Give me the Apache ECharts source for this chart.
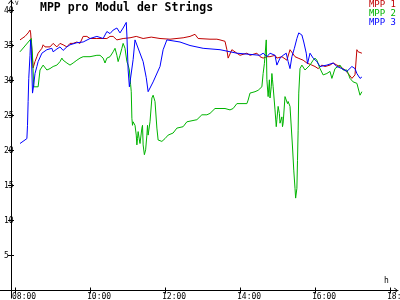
<!DOCTYPE html>
<html><head><meta charset="utf-8">
<script src="https://cdn.jsdelivr.net/npm/echarts@6/dist/echarts.min.js"></script>
<style>html,body{margin:0;padding:0;background:#fff}#c{width:400px;height:300px}</style>
</head><body><div id="c"></div>
<script>
const TITLE = 'MPP pro Modul der Strings';
const seriesNames = ['MPP 1', 'MPP 2', 'MPP 3'];
const seriesColors = ['#c00000', '#00b400', '#0000ff'];
const xTickLabels = ['08:00', '10:00', '12:00', '14:00', '16:00', '18:00'];
const yTickValues = [5, 10, 15, 20, 25, 30, 35, 40];
const yUnit = 'V';
const xUnit = 'h';

// MPP 1 (red)
const t1 = ['08:08','08:16','08:21','08:24','08:25','08:29','08:32','08:35','08:37','08:40',
  '08:43','08:45','08:48','08:51','08:56','09:01','09:07','09:12','09:17','09:23',
  '09:28','09:33','09:39','09:44','09:49','09:55','10:00','10:11','10:27','10:32',
  '10:37','10:43','10:53','11:04','11:14','11:25','11:38','11:52','12:08','12:29',
  '12:40','12:48','12:53','13:12','13:23','13:28','13:36','13:39','13:41','13:47',
  '13:55','14:00','14:11','14:16','14:27','14:32','14:37','14:43','14:48','14:56',
  '14:59','15:07','15:15','15:20','15:23','15:28','15:33','15:41','15:47','15:55',
  '16:00','16:05','16:11','16:16','16:24','16:29','16:35','16:40','16:48','16:53',
  '16:59','17:01','17:04','17:07','17:09','17:15'];
const v1 = [35.8,36.3,36.8,37.2,36.8,31.8,32.7,33.4,33.9,34.1,
  34.6,35.1,34.8,34.6,34.8,35.3,34.8,35.3,35.1,34.8,
  35.3,35.3,35.5,35.3,36.3,36.3,36.0,36.0,36.0,36.3,
  36.3,35.8,36.0,36.1,36.3,36.0,36.2,36.0,35.9,36.1,
  36.3,36.6,36.0,35.9,35.9,35.8,35.6,34.4,33.2,34.4,
  33.9,33.6,33.9,33.6,33.9,33.4,33.2,33.4,33.4,33.6,
  33.2,33.4,32.9,34.4,34.6,33.4,33.2,32.9,32.5,32.2,
  32.0,31.7,32.2,32.0,32.2,32.5,32.2,32.0,31.5,31.0,
  30.3,30.1,30.8,34.4,34.1,33.9];

// MPP 2 (green)
const t2 = ['08:08','08:26','08:28','08:30','08:37','08:40','08:45','08:51','08:56','09:01',
  '09:07','09:12','09:15','09:17','09:23','09:28','09:33','09:39','09:44','09:49',
  '10:00','10:11','10:16','10:21','10:24','10:27','10:32','10:37','10:40','10:43',
  '10:45','10:48','10:51','10:53','10:56','10:59','11:01','11:03','11:04','11:05',
  '11:06','11:07','11:08','11:09','11:12','11:14','11:15','11:16','11:17','11:19',
  '11:20','11:23','11:24','11:25','11:27','11:29','11:31','11:32','11:33','11:36',
  '11:39','11:41','11:44','11:47','11:49','11:55','12:00','12:05','12:13','12:19',
  '12:29','12:35','12:51','12:59','13:07','13:12','13:20','13:36','13:44','13:49',
  '13:55','14:11','14:13','14:16','14:19','14:24','14:29','14:35','14:37','14:39',
  '14:42','14:43','14:45','14:47','14:48','14:50','14:51','14:52','14:53','14:56',
  '14:58','14:59','15:01','15:03','15:04','15:07','15:08','15:09','15:12','15:15',
  '15:16','15:17','15:20','15:23','15:24','15:26','15:28','15:29','15:31','15:32',
  '15:33','15:34','15:36','15:39','15:41','15:44','15:47','15:52','15:57','16:00',
  '16:03','16:05','16:08','16:13','16:19','16:24','16:27','16:32','16:40','16:45',
  '16:51','16:56','17:01','17:07','17:12','17:15'];
const v2 = [34.1,36.0,33.5,29.1,29.1,31.5,32.2,31.5,31.7,32.0,
  32.2,32.7,33.2,32.9,32.5,32.2,32.5,32.9,33.2,33.4,
  33.4,33.6,33.6,33.2,32.5,33.2,33.4,34.1,34.6,33.6,
  32.7,33.6,34.6,35.3,34.6,32.7,32.2,31.5,30.3,29.4,
  28.4,24.6,23.6,24.1,23.6,22.2,20.8,21.7,22.7,21.5,
  21.0,23.2,23.6,20.8,19.4,20.1,22.2,23.6,22.2,24.1,
  27.5,27.9,27.0,23.2,21.5,21.3,21.7,22.2,22.5,23.2,
  23.4,24.1,24.4,25.1,25.1,25.3,26.0,26.0,25.8,26.0,
  26.7,26.7,27.2,28.2,28.4,28.4,28.6,29.1,31.0,32.4,
  35.8,30.1,27.7,30.1,27.5,29.1,31.0,30.1,29.1,25.8,
  23.4,24.4,26.3,25.3,23.9,24.8,23.4,23.9,27.7,27.5,
  26.7,27.0,26.3,26.3,20.5,17.2,14.6,13.2,14.6,18.6,
  22.9,28.2,31.7,32.2,32.2,31.5,31.3,32.2,32.9,33.2,
  32.9,32.7,31.7,30.8,31.0,31.3,30.3,31.7,32.2,31.5,
  31.5,30.3,29.8,29.6,27.9,28.4];

// MPP 3 (blue)
const t3 = ['08:08','08:19','08:20','08:21','08:22','08:24','08:25','08:26','08:28','08:30',
  '08:32','08:35','08:37','08:43','08:51','08:59','09:01','09:07','09:12','09:17',
  '09:23','09:28','09:39','09:49','10:00','10:11','10:21','10:27','10:32','10:37',
  '10:43','10:48','10:53','10:58','10:59','11:01','11:03','11:06','11:09','11:12',
  '11:15','11:25','11:30','11:33','11:35','11:41','11:52','11:57','12:03','12:24',
  '12:40','13:01','13:28','13:55','14:32','14:37','14:43','14:48','14:56','14:59',
  '15:04','15:09','15:14','15:17','15:20','15:23','15:27','15:31','15:34','15:39',
  '15:42','15:46','15:48','15:52','15:57','16:03','16:08','16:19','16:29','16:35',
  '16:43','16:51','16:59','17:04','17:07','17:12','17:15'];
const v3 = [21.0,21.7,23.6,27.0,30.3,33.6,35.8,34.4,28.2,29.4,
  31.0,32.0,32.7,33.9,34.4,34.6,34.1,34.5,34.8,34.3,
  34.8,35.1,35.4,35.5,36.0,36.3,36.0,37.0,36.7,37.2,
  37.5,36.8,37.5,38.3,36.5,31.5,29.1,29.1,33.0,35.8,
  36.0,32.7,30.4,28.4,28.4,29.8,32.0,34.4,35.8,35.5,
  35.0,34.6,34.4,33.9,33.6,33.9,33.4,33.9,33.6,32.2,
  33.2,33.6,33.9,32.7,31.7,33.4,34.6,36.0,36.8,36.5,
  35.5,33.9,32.4,33.9,33.2,32.7,32.0,32.2,32.5,32.0,
  31.7,31.3,32.0,31.7,31.0,30.3,30.5];

const FONT = 'DejaVu Sans Mono';
const ORIGIN = 473.6;          // minutes-of-day at the vertical axis
const X_MIN = -17.6, X_MAX = 619.2;
const Y_MIN = 0, Y_MAX = 41.5;
const LABEL_SHIFT = 4.8;       // labels start slightly left of their tick

function toMin(s) { const p = s.split(':'); return (+p[0]) * 60 + (+p[1]) - ORIGIN; }
function fmt(v) {
  const m = Math.round(v + ORIGIN);
  const h = Math.floor(m / 60), mm = m % 60;
  return String(h).padStart(2, '0') + ':' + String(mm).padStart(2, '0');
}
function pairs(ts, vs) { return ts.map((t, i) => [toMin(t), vs[i]]); }

const ARROW = 'path://M0,6 L5,0 L10,6 L9,7 L5,2 L1,7 Z';
const lineStyle = { color: '#000', width: 1 };
const xTicks = xTickLabels.map(toMin);

const chart = echarts.init(document.getElementById('c'), null, { renderer: 'canvas' });
chart.setOption({
  animation: false,
  backgroundColor: '#fff',
  title: {
    text: TITLE, left: 40, top: 2, padding: 0,
    textStyle: { fontFamily: FONT, fontSize: 11.5, fontWeight: 'bold', color: '#000', lineHeight: 12 }
  },
  legend: {
    orient: 'vertical', right: 4, top: 0, padding: 0, itemGap: 0,
    itemWidth: 0, itemHeight: 8, icon: 'rect', selectedMode: false,
    textStyle: { fontFamily: FONT, fontSize: 9, lineHeight: 8, padding: 0 },
    data: seriesNames.map((n, i) => ({ name: n, textStyle: { color: seriesColors[i] } }))
  },
  grid: { left: 0, right: 2, top: 0, bottom: 9.5, containLabel: false, outerBoundsMode: 'none' },
  xAxis: [
    {
      type: 'value', min: X_MIN, max: X_MAX, position: 'bottom',
      axisLine: { onZero: false, lineStyle,
        symbol: ['none', ARROW], symbolSize: [7, 4], symbolOffset: [0, -2] },
      axisTick: { show: true, length: 3, customValues: xTicks, lineStyle },
      axisLabel: {
        customValues: xTicks.map(v => v - LABEL_SHIFT),
        formatter: v => fmt(v + LABEL_SHIFT),
        align: 'left', verticalAlign: 'top', margin: 2, lineHeight: 8,
        fontSize: 8, fontFamily: FONT, color: '#000'
      },
      splitLine: { show: false }
    },
    {
      type: 'value', min: X_MIN, max: X_MAX, position: 'bottom',
      axisLine: { show: false, onZero: false },
      axisTick: { show: true, inside: true, length: 3, customValues: xTicks, lineStyle },
      axisLabel: { show: false },
      splitLine: { show: false }
    }
  ],
  yAxis: [
    {
      type: 'value', min: Y_MIN, max: Y_MAX, position: 'left',
      axisLine: { onZero: true, onZeroAxisIndex: 0, lineStyle,
        symbol: ['none', ARROW], symbolSize: [7, 4], symbolOffset: [0, -2] },
      axisTick: { show: true, length: 3, customValues: yTickValues, lineStyle },
      axisLabel: { inside: true, customValues: yTickValues, margin: 4,
        fontSize: 8, fontFamily: FONT, color: '#000' },
      splitLine: { show: false }
    },
    {
      type: 'value', min: Y_MIN, max: Y_MAX, position: 'right',
      axisLine: { show: false, onZero: true, onZeroAxisIndex: 0 },
      axisTick: { show: true, length: 3, customValues: yTickValues, lineStyle },
      axisLabel: { show: false },
      splitLine: { show: false }
    }
  ],
  graphic: [
    { type: 'text', left: 15, top: 0, style: { text: yUnit, font: '6px ' + FONT, fill: '#000' } },
    { type: 'text', left: 384, top: 277, style: { text: xUnit, font: '8px ' + FONT, fill: '#000' } }
  ],
  series: [
    { name: seriesNames[0], type: 'line', data: pairs(t1, v1), color: seriesColors[0] },
    { name: seriesNames[1], type: 'line', data: pairs(t2, v2), color: seriesColors[1] },
    { name: seriesNames[2], type: 'line', data: pairs(t3, v3), color: seriesColors[2] }
  ].map(s => Object.assign(s, { showSymbol: false, symbol: 'none', lineStyle: { width: 1 }, xAxisIndex: 0, yAxisIndex: 0 }))
});

// short continuation of the vertical axis below the horizontal axis
const p0 = chart.convertToPixel({ xAxisIndex: 0, yAxisIndex: 0 }, [0, 0]);
const axX = Math.round(p0[0]) + 0.5;
chart.setOption({
  graphic: [
    { type: 'text', left: 15, top: 0, style: { text: yUnit, font: '6px ' + FONT, fill: '#000' } },
    { type: 'text', left: 384, top: 277, style: { text: xUnit, font: '8px ' + FONT, fill: '#000' } },
    { type: 'line', shape: { x1: axX, y1: p0[1], x2: axX, y2: p0[1] + 8 }, style: { stroke: '#000', lineWidth: 1 }, silent: true }
  ]
});
</script>
</body></html>
